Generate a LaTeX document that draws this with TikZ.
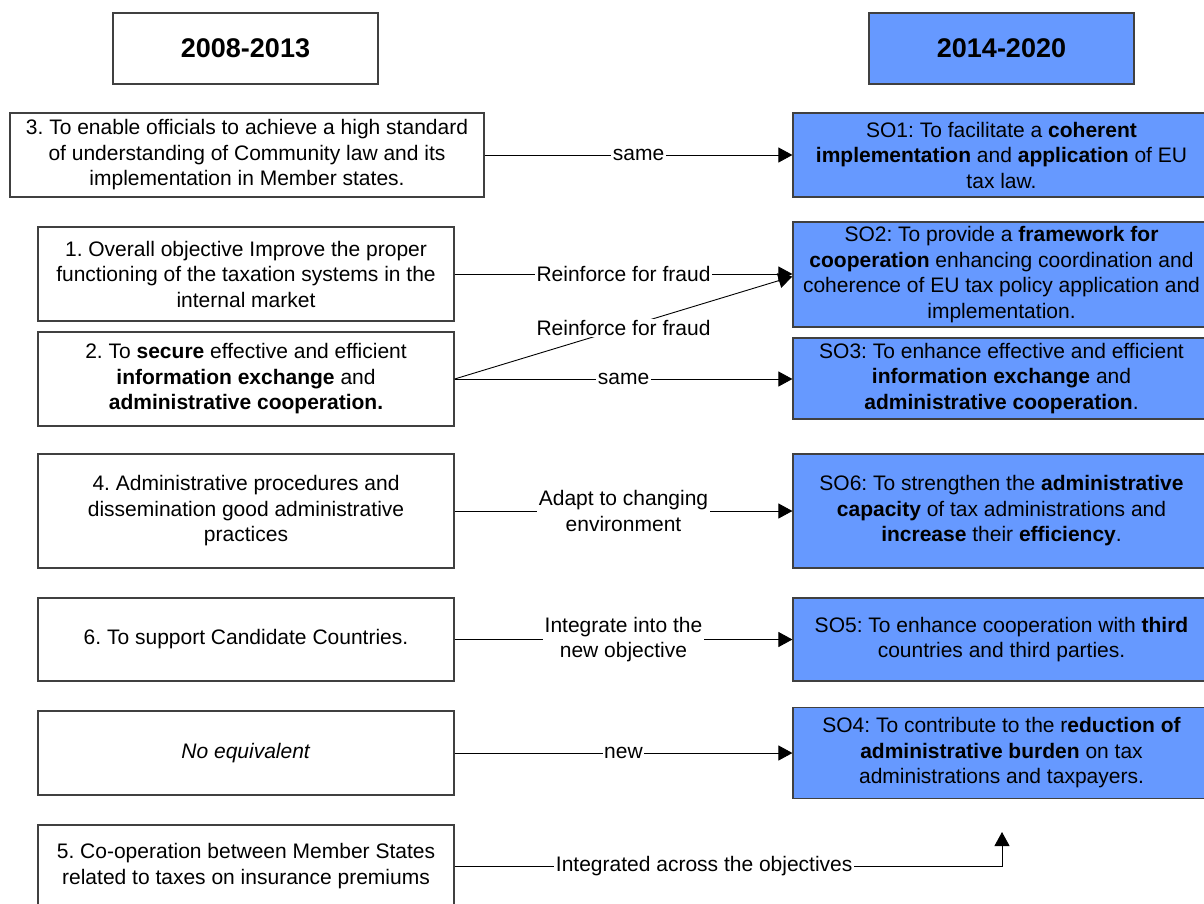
\documentclass[tikz,border=0pt]{standalone}
\usepackage{fontspec}
\setmainfont{Liberation Sans}
\usetikzlibrary{arrows.meta}
\definecolor{soblue}{HTML}{6699FF}
\definecolor{bordergray}{HTML}{404040}
\frenchspacing
\begin{document}
\begin{tikzpicture}[x=1pt,y=-1pt,
  every node/.style={font=\frenchspacing\fontsize{21}{25.5}\selectfont, align=center, inner sep=0pt},
  lbox/.style={draw=bordergray, line width=1.2pt, fill=white},
  rbox/.style={draw=bordergray, line width=1.2pt, fill=soblue},
  head/.style={font=\fontsize{27}{30}\selectfont\bfseries},
  conn/.style={draw=black, line width=0.9pt, -{Triangle[length=14pt,width=15pt]}},
  lbl/.style={fill=white, inner sep=1.5pt}
]
\useasboundingbox (0,0) rectangle (1204,903);
\clip (0,0) rectangle (1204,903);

% headings
\node[lbox, head, minimum width=265pt, minimum height=71pt] (h1) at (245.5,48.5) {2008-2013};
\node[rbox, head, minimum width=265pt, minimum height=71pt] (h2) at (1001.5,48.5) {2014-2020};

% left column
\node[lbox, minimum width=474pt, minimum height=84pt] (b3) at (247,155) {3. To enable officials to achieve a high standard\\of understanding of Community law and its\\implementation in Member states.};
\node[lbox, minimum width=416pt, minimum height=94pt] (b1) at (246,274) {1. Overall objective Improve the proper\\functioning of the taxation systems in the\\internal market};
\node[lbox, minimum width=416pt, minimum height=94pt] (b2) at (246,379) {2. To \textbf{secure} effective and efficient\\\textbf{information exchange} and\\\textbf{administrative cooperation.}};
\node[lbox, minimum width=416pt, minimum height=114pt] (b4) at (246,511) {4. Administrative procedures and\\dissemination good administrative\\practices};
\node[lbox, minimum width=416pt, minimum height=83pt] (b6) at (246,639.5) {6. To support Candidate Countries.};
\node[lbox, minimum width=416pt, minimum height=84pt] (b0) at (246,753) {\textit{No equivalent}};
\node[lbox, minimum width=416pt, minimum height=82pt] (b5) at (246,866) {5. Co-operation between Member States\\related to taxes on insurance premiums};

% right column
\node[rbox, minimum width=417pt, minimum height=84pt] (so1) at (1001.5,155) {SO1: To facilitate a \textbf{coherent}\\\textbf{implementation} and \textbf{application} of EU\\tax law.};
\node[rbox, minimum width=417pt, minimum height=105pt] (so2) at (1001.5,274.5) {SO2: To provide a \textbf{framework for}\\\textbf{cooperation} enhancing coordination and\\coherence of EU tax policy application and\\implementation.};
\node[rbox, minimum width=417pt, minimum height=81pt] (so3) at (1001.5,378.5) {SO3: To enhance effective and efficient\\\textbf{information exchange} and\\\textbf{administrative cooperation}.};
\node[rbox, minimum width=417pt, minimum height=114pt] (so6) at (1001.5,511) {SO6: To strengthen the \textbf{administrative}\\\textbf{capacity} of tax administrations and\\\textbf{increase} their \textbf{efficiency}.};
\node[rbox, minimum width=417pt, minimum height=83pt] (so5) at (1001.5,639.5) {SO5: To enhance cooperation with \textbf{third}\\countries and third parties.};
\node[rbox, minimum width=417pt, minimum height=91pt] (so4) at (1001.5,753) {SO4: To contribute to the r\textbf{eduction of}\\\textbf{administrative burden} on tax\\administrations and taxpayers.};

\coordinate (c5) at (1002,866);
\coordinate (t5) at (1002,832);

% connectors
\draw[conn] (b3.east) -- node[lbl] {same} (so1.west);
\draw[conn] (b1.east) -- node[lbl] {Reinforce for fraud} (b1.east -| so2.west);
\draw[conn] (b2.east) -- node[lbl] {Reinforce for fraud} ([yshift=-2pt]so2.west);
\draw[conn] (b2.east) -- node[lbl] {same} (b2.east -| so3.west);
\draw[conn] (b4.east) -- node[lbl] {Adapt to changing\\environment} (so6.west);
\draw[conn] (b6.east) -- node[lbl] {Integrate into the\\new objective} (so5.west);
\draw[conn] (b0.east) -- node[lbl] {new} (so4.west);
\draw[conn] (b5.east) -- node[lbl, pos=0.456] {Integrated across the objectives} (c5) -- (t5);
\end{tikzpicture}
\end{document}
